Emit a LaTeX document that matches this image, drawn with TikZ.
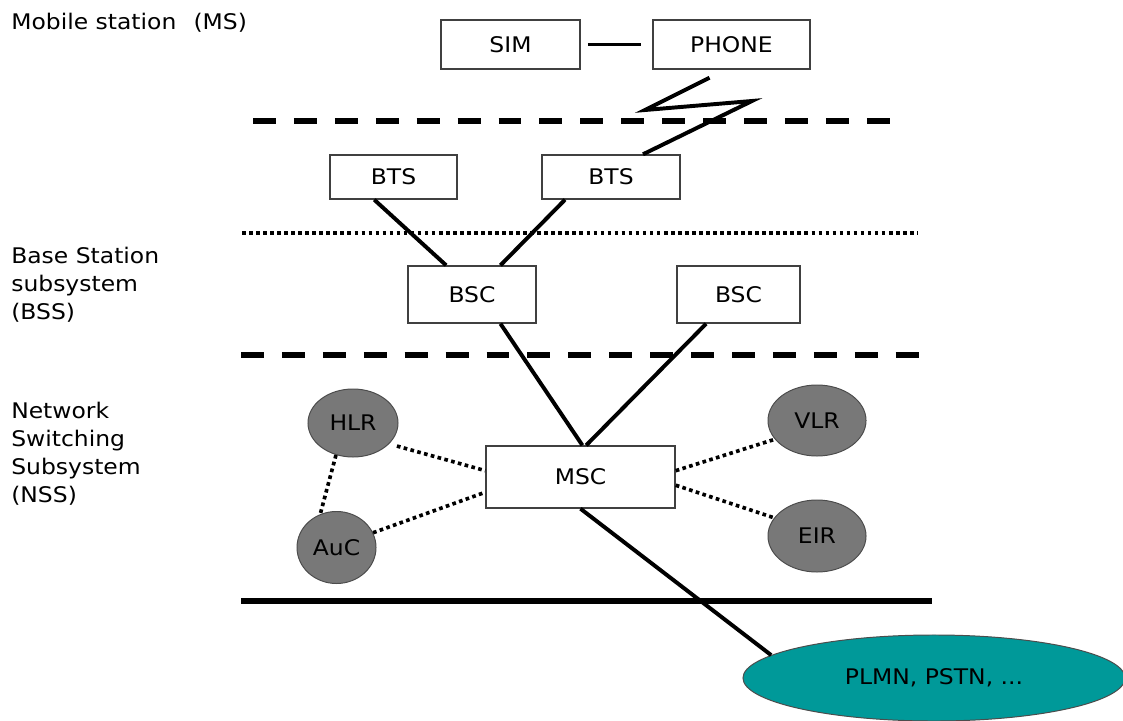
\documentclass[tikz,border=0pt]{standalone}
\usepackage{fontspec}
\setmainfont[FakeStretch=1.09]{DejaVu Sans}
\usepackage{tikz}
\usetikzlibrary{calc,shapes.geometric}
\definecolor{dbgray}{RGB}{120,120,120}
\definecolor{netteal}{RGB}{0,153,153}

\begin{document}
\begin{tikzpicture}[x=0.025cm, y=-0.025cm,
  box/.style={draw=black!75, line width=1pt, fill=white, inner sep=0pt,
              font=\fontsize{15.3}{19.8}\selectfont},
  db/.style={ellipse, draw=black!70, line width=0.7pt, fill=dbgray, inner sep=0pt,
             font=\fontsize{15.3}{19.8}\selectfont},
  link/.style={line width=2.8pt},
  aux/.style={line width=2.6pt, dash pattern=on 2.6pt off 2.4pt},
  layer/.style={line width=4.2pt},
  lbl/.style={anchor=north west, inner sep=0pt, align=left,
              font=\fontsize{15.3}{19.8}\selectfont},
]
\useasboundingbox (0,0) rectangle (1123,721);

% subsystem labels
\node[lbl] (ms)  at (11,13)  {Mobile station\hspace{0.8em}(MS)};
\node[lbl] (bss) at (11,247) {Base Station\\subsystem\\(BSS)};
\node[lbl] (nss) at (11,402) {Network\\Switching\\Subsystem\\(NSS)};

% layer borders
\draw[layer, dash pattern=on 16.3pt off 12.8pt] (253,121) -- (895,121);
\draw[aux] (242,233) -- (918,233);
\draw[layer, dash pattern=on 16.3pt off 12.8pt] (241,355) -- (926,355);
\draw[layer] (241,601) -- (932,601);

% MS
\node[box, minimum width=3.475cm, minimum height=1.225cm] (sim) at (510.5,44.5) {SIM};
\node[box, minimum width=3.925cm, minimum height=1.225cm] (phone) at (731.5,44.5) {PHONE};

% BSS
\node[box, minimum width=3.175cm, minimum height=1.1cm] (bts1) at (393.5,177) {BTS};
\node[box, minimum width=3.45cm, minimum height=1.1cm] (bts2) at (611,177) {BTS};
\node[box, minimum width=3.2cm, minimum height=1.425cm] (bsc1) at (472,294.5) {BSC};
\node[box, minimum width=3.075cm, minimum height=1.425cm] (bsc2) at (738.5,294.5) {BSC};

% NSS
\node[box, minimum width=4.725cm, minimum height=1.55cm] (msc) at (580.5,477) {MSC};
\node[db, minimum width=2.25cm, minimum height=1.7cm] (hlr) at (353,423) {HLR};
\node[db, minimum width=1.975cm, minimum height=1.8cm] (auc) at (336.5,547.5) {AuC};
\node[db, minimum width=2.45cm, minimum height=1.775cm] (vlr) at (817,420.5) {VLR};
\node[db, minimum width=2.45cm, minimum height=1.8cm] (eir) at (817,536) {EIR};
\node[db, fill=netteal, minimum width=9.55cm, minimum height=2.15cm] (plmn) at (934,678)
  {PLMN, PSTN, ...};

% radio link
\coordinate (z1) at (645,110);
\coordinate (z2) at (752,101);

\draw[link, shorten <=0.18cm, shorten >=0.28cm] (sim) -- (phone);
\draw[link] ($(phone.south)+(-22,8)$) -- (z1) -- (z2) -- ($(bts2.north)+(32,0)$);
\draw[link] ($(bts1.south west)!0.35!(bts1.south east)$) -- ($(bsc1.north west)!0.3!(bsc1.north east)$);
\draw[link] ($(bts2.south west)!0.17!(bts2.south east)$) -- ($(bsc1.north west)!0.72!(bsc1.north east)$);
\draw[link] ($(bsc1.south west)!0.72!(bsc1.south east)$) -- ($(msc.north west)!0.51!(msc.north east)$);
\draw[link] ($(bsc2.south west)!0.24!(bsc2.south east)$) -- ($(msc.north west)!0.53!(msc.north east)$);
\draw[link] (msc.south) -- (plmn.172);
\draw[aux, shorten <=0.2cm] (hlr.-30) -- ($(msc.north west)!0.4!(msc.south west)$);
\draw[aux] (auc.22) -- ($(msc.north west)!0.74!(msc.south west)$);
\draw[aux] (hlr.242) -- (auc.116);
\draw[aux] ($(msc.north east)!0.4!(msc.south east)$) -- (vlr.204);
\draw[aux] ($(msc.north east)!0.63!(msc.south east)$) -- (eir.157);
\end{tikzpicture}
\end{document}
